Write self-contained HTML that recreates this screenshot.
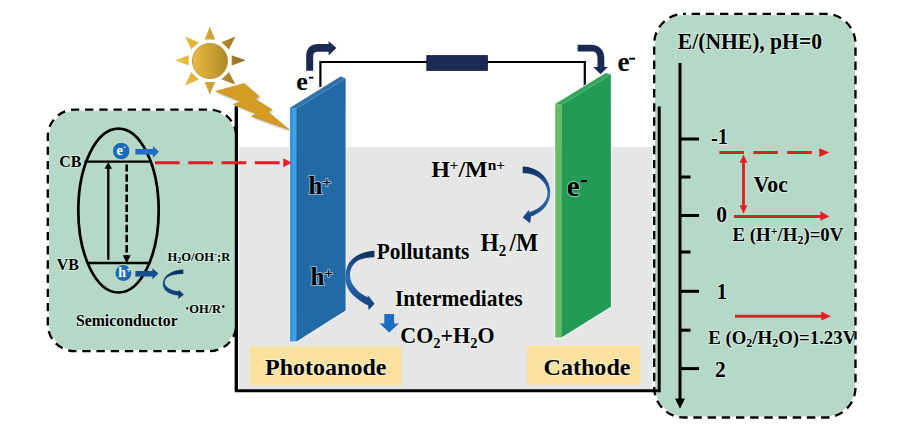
<!DOCTYPE html>
<html><head><meta charset="utf-8">
<style>
html,body{margin:0;padding:0;background:#fff;width:900px;height:428px;overflow:hidden}
svg{display:block}
text{font-family:"Liberation Serif",serif;font-weight:bold;fill:#000;stroke:#f4fff8;stroke-opacity:0.5;stroke-width:2;paint-order:stroke;stroke-linejoin:round}
</style></head>
<body>
<svg width="900" height="428" viewBox="0 0 900 428">
<defs>
  <linearGradient id="sunG" x1="0" y1="0" x2="1" y2="0">
    <stop offset="0" stop-color="#e9bb45"/>
    <stop offset="1" stop-color="#b08826"/>
  </linearGradient>
  <linearGradient id="arrA" gradientUnits="userSpaceOnUse" x1="0" y1="251" x2="0" y2="309">
    <stop offset="0" stop-color="#0d2a58"/>
    <stop offset="0.45" stop-color="#2b6fb8"/>
    <stop offset="1" stop-color="#123f78"/>
  </linearGradient>
  <linearGradient id="arrB" gradientUnits="userSpaceOnUse" x1="0" y1="166" x2="0" y2="223">
    <stop offset="0" stop-color="#0d2a58"/>
    <stop offset="0.5" stop-color="#2b72bc"/>
    <stop offset="1" stop-color="#123f78"/>
  </linearGradient>
  <linearGradient id="arrC" gradientUnits="userSpaceOnUse" x1="0" y1="269" x2="0" y2="299">
    <stop offset="0" stop-color="#0c2d5c"/>
    <stop offset="0.5" stop-color="#1a4f8c"/>
    <stop offset="1" stop-color="#0c3262"/>
  </linearGradient>
  <linearGradient id="stripG" x1="0" y1="0" x2="1" y2="0">
    <stop offset="0" stop-color="#2b8ad2"/>
    <stop offset="0.6" stop-color="#3fa6e6"/>
    <stop offset="1" stop-color="#3a9fe0"/>
  </linearGradient>
  <clipPath id="clipR"><rect x="-100" y="-40" width="246.5" height="80"/></clipPath>
  <linearGradient id="rayG" gradientUnits="userSpaceOnUse" x1="175" y1="0" x2="246" y2="0">
    <stop offset="0" stop-color="#edbf42"/>
    <stop offset="0.4" stop-color="#dcae3a"/>
    <stop offset="0.6" stop-color="#bf9630"/>
    <stop offset="1" stop-color="#8a6a1c"/>
  </linearGradient>
  <filter id="blur1" x="-10%" y="-10%" width="120%" height="120%"><feGaussianBlur stdDeviation="0.9"/></filter>
</defs>

<rect x="239" y="147" width="413.5" height="242.5" fill="#e6e6e6"/>
<rect x="655" y="15" width="200" height="401.6" rx="30" fill="#b5d9c6"/>
<rect x="654.2" y="13.9" width="201.3" height="403.6" rx="30" fill="none" stroke="#000" stroke-width="2.3" stroke-dasharray="8.4 5.79" stroke-dashoffset="6.79"/>
<path d="M236.3 106.3 V390.7 H659.2 V106.5" fill="none" stroke="#000" stroke-width="3"/>
<rect x="49" y="110.8" width="186" height="239.3" rx="26" fill="#b5d9c6"/>
<path d="M236.3 136.6 A27 27 0 0 0 209.3 109.6 H74.8 A27 27 0 0 0 47.8 136.6 V324.2 A27 27 0 0 0 74.8 351.2 H209.3 A27 27 0 0 0 236.3 324.2" fill="none" stroke="#000" stroke-width="2.3" stroke-dasharray="8.4 5.8" stroke-dashoffset="12.3"/>
<line x1="236.3" y1="106.3" x2="236.3" y2="390.7" stroke="#000" stroke-width="3"/>
<ellipse cx="118.5" cy="210.55" rx="40.2" ry="81.95" fill="none" stroke="#000" stroke-width="2.7"/>
<line x1="84.5" y1="161.6" x2="152" y2="161.6" stroke="#000" stroke-width="2.4"/>
<line x1="87.5" y1="263" x2="148.5" y2="263" stroke="#000" stroke-width="2.4"/>
<line x1="108.3" y1="259.8" x2="108.3" y2="167.5" stroke="#000" stroke-width="2.3"/>
<path d="M104.5 168.8 L108.3 162.2 L112.1 168.8 Z" fill="#000"/>
<line x1="126.7" y1="164.5" x2="126.7" y2="256.5" stroke="#000" stroke-width="2.6" stroke-dasharray="7.5 2.6" stroke-dashoffset="0.4"/>
<path d="M122.8 255.3 L126.7 263.2 L130.6 255.3 Z" fill="#000"/>
<path d="M135.4 149 H152.9 V145.9 L159 151.8 L152.9 157.7 V154.6 H135.4 Z" fill="#1f6cc0"/>
<path d="M135.4 271 H152.4 V268.2 L158.5 273.6 L152.4 279.5 V276.4 H135.4 Z" fill="#174e91"/>
<circle cx="121.2" cy="151" r="8.8" fill="#1c6bb8" stroke="#e3e6b8" stroke-width="0.8"/>
<text x="116.4" y="155.3" font-size="14.5" style="fill:#fff;stroke:none">e</text>
<rect x="123.6" y="146.8" width="2" height="1" fill="#fff"/>
<circle cx="123.4" cy="273" r="8.5" fill="#1c6bb8" stroke="#e3e6b8" stroke-width="0.8"/>
<text x="118.3" y="277.3" font-size="13.8" style="fill:#fff;stroke:none">h<tspan font-size="10" dy="-4.4">+</tspan></text>
<path d="M183.3 269.5 C176 269.8 168 272.5 164.5 278 C161.5 283 162.5 289 168 292.5 C171 294.3 175 295.2 178.6 295.5 L178 299.1 L183.8 294.7 L178.9 289.8 L178.6 291.3 C173 290.8 168.5 289 166 286 C164 283 164.8 279.5 167.5 277.3 C171 274.8 177 274 183.3 274 Z" fill="url(#arrC)"/>
<text transform="translate(59.2 166.7) scale(1 1.04)" font-size="16">CB</text>
<text transform="translate(56.8 269.8) scale(1 1.04)" font-size="16">VB</text>
<text transform="translate(167.4 260.8) scale(1 0.97)" font-size="12.6">H<tspan font-size="8" dy="2.6">2</tspan><tspan dy="-2.6">O/OH</tspan><tspan font-size="9" dy="-4">-</tspan><tspan dy="4">;R</tspan></text>
<circle cx="187.2" cy="308.3" r="1.1" fill="#000"/>
<text x="189.2" y="312.8" font-size="12.5">OH/R</text>
<circle cx="223.3" cy="306.5" r="1.2" fill="#000"/>
<text transform="translate(75.9 325.9) scale(1 1.08)" font-size="15.8">Semiconductor</text>
<circle cx="210" cy="61" r="17.6" fill="url(#sunG)" stroke="#b89030" stroke-width="0.8"/>
<g fill="url(#rayG)">
<path d="M209.8 26.5 L215 39.6 L204.6 39.6 Z"/>
<path d="M209.8 94.8 L215 82 L204.6 82 Z"/>
<path d="M175.2 60.2 L188.7 55.3 L188.7 65.5 Z"/>
<path d="M245.7 60.2 L231.7 55.3 L231.7 65.5 Z"/>
<path d="M185 36.5 L198.8 42.2 L191.2 49.6 Z"/>
<path d="M235.4 36.5 L221.4 42.2 L229 49.6 Z"/>
<path d="M185 85.5 L191.2 72.2 L198.8 79.6 Z"/>
<path d="M235.4 84.5 L229 72 L221.4 79.4 Z"/>
</g>
<path d="M217 93 L245.7 85.1 L260.7 98.3 L256.5 100.6 L273.5 111.4 L269.4 113.5 L291.1 131.7 L252.7 118 L257.7 115.5 L234.8 106.1 L242 103.2 Z" fill="#9fb4dc" opacity="0.8" filter="url(#blur1)"/>
<path d="M215.5 91.3 L244.2 83.4 L259.2 96.6 L255 98.9 L272 109.7 L267.9 111.8 L289.6 130 L251.2 116.3 L256.2 113.8 L233.3 104.4 L240.5 101.5 Z" fill="#d59b22" stroke="#c98d18" stroke-width="0.6"/>
<path d="M320.4 87 V62 H584.8 V86" fill="none" stroke="#000" stroke-width="2.2"/>
<rect x="426.8" y="55.6" width="60.6" height="14.8" fill="#1c2a55" stroke="#0f1a3d" stroke-width="0.8"/>
<path d="M306.2 70.7 V56 C306.2 48 311 44 318 44 H328.6 V41 L336.4 48 L328.6 55.5 V51.7 H318 C315 51.7 313.2 53 313.2 56 V70.7 Z" fill="#1b2a55"/>
<path d="M577.6 44.7 H591 C599 44.7 604.3 50 604.3 58 V66.9 H607.9 L600.6 74.3 L593.3 66.9 H597.5 V59 C597.5 54 596 51.5 592 51.5 H577.6 Z" fill="#1b2a55"/>
<text x="296.3" y="89.5" font-size="26">e</text>
<rect x="309" y="76.8" width="4.4" height="1.8" fill="#000"/>
<text x="617.4" y="71" font-size="27">e</text>
<rect x="629.2" y="57.7" width="5.8" height="2" fill="#000"/>
<path d="M290.1 107.8 L340.6 76.6 L345.6 78.5 V310.6 L296.6 342 H290.1 Z" fill="none" stroke="#fdf2f0" stroke-width="1.6"/>
<path d="M290.1 107.8 L296.6 108.4 V341.5 L290.1 341.5 Z" fill="url(#stripG)"/>
<path d="M296.6 108.4 L345.6 78.5 V310.6 L296.6 341.5 Z" fill="#226aa6"/>
<line x1="297.1" y1="108.5" x2="297.1" y2="341" stroke="#1d5b95" stroke-width="1"/>
<path d="M290.1 107.8 L340.6 76.6 L345.6 78.5 L296.6 108.4 Z" fill="#2f72b0"/>
<line x1="155" y1="162.7" x2="283.5" y2="162.7" stroke="#e41e26" stroke-width="3" stroke-dasharray="24.7 8.6"/>
<path d="M283.3 158.3 L291.8 162.7 L283.3 167.3 Z" fill="#e41e26"/>
<path d="M555.2 104 L605.8 72.9 L610.9 74.4 V307 L561.4 337.9 H555.2 Z" fill="none" stroke="#fdf2f4" stroke-width="1.6"/>
<path d="M555.2 104 L561.4 104.8 V337.4 L555.2 337.4 Z" fill="#66bd66"/>
<path d="M561.4 104.8 L610.9 74.4 V306.8 L561.4 337.4 Z" fill="#239a56"/>
<path d="M555.2 104 L605.8 72.9 L610.9 74.4 L561.4 104.8 Z" fill="#34a75e"/>
<text x="308.6" y="193.5" font-size="25">h<tspan font-size="15" dy="-6.3">+</tspan></text>
<text x="310.4" y="284.5" font-size="25">h<tspan font-size="15" dy="-6.3">+</tspan></text>
<text x="566.8" y="195.5" font-size="29">e</text>
<rect x="581.1" y="180" width="5.9" height="2.1" fill="#000"/>
<text x="431.2" y="177.2" font-size="24">H<tspan font-size="15" dy="-7.2">+</tspan><tspan dy="7.2">/M</tspan><tspan font-size="15.5" dy="-7.2">n+</tspan></text>
<text transform="translate(480.5 250.7) scale(1 1.06)" font-size="23.5">H<tspan font-size="15" dy="5.2">2</tspan><tspan dy="-5.2" dx="3.2">/M</tspan></text>
<text transform="translate(376.7 259.1) scale(1 1.03)" font-size="21.4">Pollutants</text>
<text transform="translate(394.9 306) scale(1 1.04)" font-size="21.5">Intermediates</text>
<text transform="translate(400.3 342.8) scale(1 1.03)" font-size="22">CO<tspan font-size="14.5" dy="5">2</tspan><tspan dy="-5">+H</tspan><tspan font-size="14.5" dy="5">2</tspan><tspan dy="-5">O</tspan></text>
<path d="M374.4 250.7 C366 250.9 357 254 351 260.5 C346.5 265.5 345.2 273 345.4 279 C345.9 287 350.5 293.5 357 298.5 C360.5 301.5 364.5 303.8 368.2 305.5 L368.6 310 L374.6 303.8 L367.7 295 L367.8 297.3 C363.5 295.5 360 293 357 290 C352.5 285.5 350.1 280.5 350 275.5 C349.8 269 353 263.5 358.5 260.3 C363 258 368.5 257.2 374.4 257.2 Z" fill="url(#arrA)"/>
<path d="M522.7 166.5 C531 166.6 540 170.5 545.5 178 C549 183 550.3 188 550.2 193 C550 201 546 207.5 540 211.8 C537 214 534 215.5 530.9 216.6 L530.2 223.2 L522.7 217.5 L528.7 210.1 L529.4 212.3 C534.5 210.6 539.5 208 543 204 C546 200.5 547.6 196.5 547.5 192.5 C547.3 187 544.3 182 540 178.5 C535 174.5 529 173.2 522.7 173.2 Z" fill="url(#arrB)"/>
<path d="M384.3 314 H394.1 V323.4 H399 L389.2 332.4 L379.7 323.4 H384.3 Z" fill="#1d6cc0"/>
<rect x="249.8" y="346.3" width="151.5" height="39" fill="#fae1a0"/>
<text x="265.1" y="374.6" font-size="24">Photoanode</text>
<rect x="527" y="345.5" width="113.3" height="39.1" fill="#fae1a0"/>
<text x="543.5" y="375.4" font-size="24.1">Cathode</text>
<text transform="translate(677.8 49) scale(1 1.04)" font-size="21.6">E/(NHE), pH=0</text>
<line x1="680" y1="63" x2="680" y2="400" stroke="#000" stroke-width="3"/>
<path d="M675 398.5 L680 408.7 L685 398.5 Z" fill="#000"/>
<g stroke="#000" stroke-width="3">
  <line x1="680" y1="139" x2="699" y2="139"/>
  <line x1="680" y1="177" x2="690.5" y2="177"/>
  <line x1="680" y1="215.5" x2="699" y2="215.5"/>
  <line x1="680" y1="252" x2="690.5" y2="252"/>
  <line x1="680" y1="291.3" x2="699" y2="291.3"/>
  <line x1="680" y1="330.2" x2="690.5" y2="330.2"/>
  <line x1="680" y1="368.6" x2="699" y2="368.6"/>
</g>
<text transform="translate(710.9 144.3) scale(1 1.08)" font-size="20.5"><tspan dy="1.3">-</tspan><tspan dy="-1.3">1</tspan></text>
<text transform="translate(716.3 222.1) scale(1 1.04)" font-size="21.5">0</text>
<text transform="translate(716.6 299.4) scale(1 1.04)" font-size="21.5">1</text>
<text transform="translate(714.9 376.7) scale(1 1.04)" font-size="21.5">2</text>
<line x1="719.4" y1="152.5" x2="819.5" y2="152.5" stroke="#e41e26" stroke-width="3" stroke-dasharray="24.6 9.3"/>
<path d="M819.2 148.2 L829.3 152.5 L819.2 156.9 Z" fill="#e41e26"/>
<line x1="743.5" y1="160" x2="743.5" y2="207" stroke="#e41e26" stroke-width="2.8"/>
<path d="M739.7 162.7 L743.5 154.5 L747.3 162.7 Z" fill="#e41e26"/>
<path d="M739.7 205.2 L743.5 213.7 L747.3 205.2 Z" fill="#e41e26"/>
<line x1="733.9" y1="216.5" x2="821" y2="216.5" stroke="#e41e26" stroke-width="3"/>
<path d="M820.4 211.3 L829.3 216.5 L820.4 220.7 Z" fill="#e41e26"/>
<text transform="translate(753.6 191.9) scale(1 1.1)" font-size="21.8">Voc</text>
<text transform="translate(732.6 240.7) scale(1 1.03)" font-size="18.8">E (H<tspan font-size="12" dy="-5.5">+</tspan><tspan dy="5.5">/H</tspan><tspan font-size="12" dy="3.5">2</tspan><tspan dy="-3.5">)=0V</tspan></text>
<line x1="735" y1="316.2" x2="822" y2="316.2" stroke="#e41e26" stroke-width="3"/>
<path d="M821.3 311.5 L831.1 316.2 L821.3 320.4 Z" fill="#e41e26"/>
<text transform="translate(708.2 343.6) scale(1 1.05)" font-size="18.8" clip-path="url(#clipR)">E (O<tspan font-size="12" dy="3.5">2</tspan><tspan dy="-3.5">/H</tspan><tspan font-size="12" dy="3.5">2</tspan><tspan dy="-3.5">O)=1.23V</tspan></text>
</svg>
</body></html>
